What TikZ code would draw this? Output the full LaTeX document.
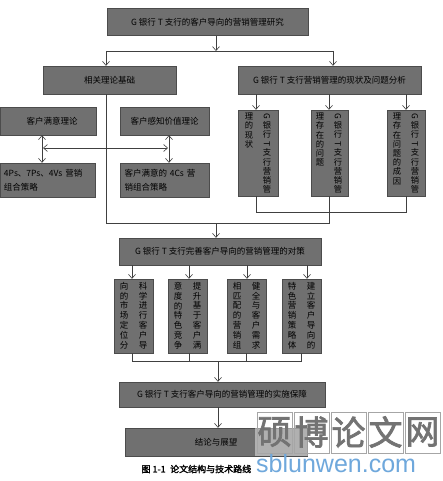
\documentclass[tikz,border=0pt]{standalone}
\usepackage{fontspec}
\usepackage{graphicx}
\newfontfamily\cjk{Noto Sans CJK SC}
\newfontfamily\cjkb[FakeBold=2]{Noto Sans CJK SC}
\newfontfamily\wmsans{Liberation Sans}
\usetikzlibrary{arrows.meta}
\definecolor{boxgray}{HTML}{707070}
\definecolor{wmblue}{HTML}{6FA8DC}
\tikzset{
 box/.style={draw=black!70, fill=boxgray, inner sep=0pt, font=\cjk\fontsize{8.5}{14}\selectfont, text=black},
 arr/.style={draw=black!75, line width=0.6pt, -{Straight Barb[length=4pt,width=7pt]}},
 dbl/.style={draw=black!75, line width=0.6pt, {Straight Barb[length=4pt,width=7pt]}-{Straight Barb[length=4pt,width=7pt]}},
 ln/.style={draw=black!75, line width=0.6pt},
 vcol/.style={inner sep=0pt, anchor=north, align=center, font=\cjk\fontsize{8.3}{9.2}\selectfont, text=black},
 vcolb/.style={vcol, font=\cjk\fontsize{8.5}{9.8}\selectfont},
}
\newcommand\rG{\rotatebox[origin=c]{-90}{G}}
\newcommand\rT{\rotatebox[origin=c]{-90}{T}}
\begin{document}
\begin{tikzpicture}[x=1pt,y=-1pt]
\useasboundingbox (0,0) rectangle (443,481);
\fill[white] (0,0) rectangle (443,481);

% top
\node[box, minimum width=201pt, minimum height=27pt] (top) at (207.5,22) {G 银行 T 支行的客户导向的营销管理研究};
\coordinate (j1) at (216,51);
\coordinate (jl) at (106,51);
\coordinate (jr) at (333,51);
\draw[arr] (top.south -| j1) -- (j1);
\draw[ln] (jl) -- (jr);

\node[box, minimum width=133pt, minimum height=28pt] (theory) at (109.5,80) {相关理论基础};
\node[box, minimum width=183pt, minimum height=28pt] (status) at (329.5,80) {G 银行 T 支行营销管理的现状及问题分析};
\draw[arr] (jl) -- (theory.north -| jl);
\draw[arr] (jr) -- (status.north -| jr);

% left theory boxes
\node[box, minimum width=96pt, minimum height=28pt] (s1) at (48,121) {\hspace*{8pt}客户满意理论};
\node[box, minimum width=89pt, minimum height=28pt] (s2) at (164.5,121) {客户感知价值理论};
\node[box, minimum width=95pt, minimum height=34pt, align=left, text width=87pt] (s3) at (47.5,180) {4Ps、7Ps、4Vs 营销\\组合策略};
\node[box, minimum width=89pt, minimum height=34pt, align=left, text width=80pt] (s4) at (164.5,180) {客户满意的 4Cs 营\\销组合策略};
\coordinate (dl) at (42,0);
\coordinate (dr) at (169,0);
\draw[dbl] (s1.south -| dl) -- (s3.north -| dl);
\draw[dbl] (s2.south -| dr) -- (s4.north -| dr);
\coordinate (h1) at (43,148);
\coordinate (h2) at (168,148);
\draw[dbl] (h1) -- (h2);

% status sub boxes
\node[box, minimum width=40pt, minimum height=86pt] (b1) at (258,153) {};
\node[box, minimum width=37pt, minimum height=86pt] (b2) at (329.5,153) {};
\node[box, minimum width=38pt, minimum height=86pt] (b3) at (406,153) {};
\node[vcol] (b1r) at (267,113) {\rG\\银\\行\\\rT\\支\\行\\营\\销\\管};
\node[vcol] (b1l) at (249,113) {理\\的\\现\\状};
\node[vcol] (b2r) at (338,113) {\rG\\银\\行\\\rT\\支\\行\\营\\销\\管};
\node[vcol] (b2l) at (320,113) {理\\存\\在\\的\\问\\题};
\node[vcol] (b3r) at (415,113) {\rG\\银\\行\\\rT\\支\\行\\营\\销\\管};
\node[vcol] (b3l) at (397,113) {理\\存\\在\\问\\题\\的\\成\\因};
\coordinate (k1) at (256,0);
\coordinate (k2) at (329,0);
\coordinate (k3) at (406,0);
\draw[arr] (status.south -| k1) -- (b1.north -| k1);
\draw[arr] (status.south -| k2) -- (b2.north -| k2);
\draw[arr] (status.south -| k3) -- (b3.north -| k3);
\coordinate (u1) at (256,212);
\coordinate (u3) at (406,212);
\draw[ln] (b1.south -| u1) -- (u1) -- (u3) -- (b3.south -| u3);
\coordinate (w1) at (106,223);
\coordinate (w2) at (329,223);
\coordinate (wm) at (216,223);
\draw[ln] (theory.south -| w1) -- (w1) -- (w2) -- (b2.south -| w2);

% countermeasures
\node[box, minimum width=202pt, minimum height=27pt] (m) at (220,251.5) {G 银行 T 支行完善客户导向的营销管理的对策};
\draw[arr] (wm) -- (m.north -| wm);
\node[box, minimum width=39pt, minimum height=74pt] (c1) at (133.5,316) {};
\node[box, minimum width=39pt, minimum height=74pt] (c2) at (187.5,316) {};
\node[box, minimum width=39pt, minimum height=74pt] (c3) at (246.5,316) {};
\node[box, minimum width=39pt, minimum height=74pt] (c4) at (301.5,316) {};
\node[vcolb] (c1r) at (143,282) {科\\学\\进\\行\\客\\户\\导};
\node[vcolb] (c1l) at (124,282) {向\\的\\市\\场\\定\\位\\分};
\node[vcolb] (c2r) at (197,282) {提\\升\\基\\于\\客\\户\\满};
\node[vcolb] (c2l) at (178,282) {意\\度\\的\\特\\色\\竞\\争};
\node[vcolb] (c3r) at (256,282) {健\\全\\与\\客\\户\\需\\求};
\node[vcolb] (c3l) at (237,282) {相\\匹\\配\\的\\营\\销\\组};
\node[vcolb] (c4r) at (311,282) {建\\立\\客\\户\\导\\向\\的};
\node[vcolb] (c4l) at (292,282) {特\\色\\营\\销\\策\\略\\体};
\coordinate (p1) at (132,0);
\coordinate (p2) at (189,0);
\coordinate (p3) at (247,0);
\coordinate (p4) at (307,0);
\draw[arr] (m.south -| p1) -- (c1.north -| p1);
\draw[arr] (m.south -| p2) -- (c2.north -| p2);
\draw[arr] (m.south -| p3) -- (c3.north -| p3);
\draw[arr] (m.south -| p4) -- (c4.north -| p4);
\coordinate (q1) at (132,361);
\coordinate (q2) at (189,361);
\coordinate (q3) at (246,361);
\coordinate (q4) at (301,361);
\coordinate (qm) at (218,361);
\draw[ln] (c1.south -| q1) -- (q1) -- (q4) -- (c4.south -| q4);
\draw[ln] (c2.south -| q2) -- (q2);
\draw[ln] (c3.south -| q3) -- (q3);

\node[box, minimum width=206pt, minimum height=25pt] (impl) at (222,394.5) {G 银行 T 支行客户导向的营销管理的实施保障};
\draw[arr] (qm) -- (impl.north -| qm);
\node[box, minimum width=182pt, minimum height=28pt] (concl) at (216,442) {结论与展望};
\coordinate (r1) at (218,0);
\draw[arr] (impl.south -| r1) -- (concl.north -| r1);

\node[font=\cjkb\fontsize{9}{10}\selectfont, anchor=west] (cap) at (138,469) {图 1-1\enspace 论文结构与技术路线};

% watermark
\fill[white, opacity=0.45] (255,410) rectangle (443,456);
\foreach \i/\ch in {0/硕,1/博,2/论,3/文,4/网}{
  \draw[black!35, line width=0.5pt] (257+\i*37,412) rectangle (292+\i*37,453);
  \node[font=\cjkb\fontsize{34}{34}\selectfont, text=black!55, inner sep=0pt] (wm\i) at (274.5+\i*37,432) {\ch};
}
\node[font=\wmsans\fontsize{25}{25}\selectfont, text=wmblue, anchor=west, inner sep=0pt] (wmurl) at (256,464) {sblunwen.com};
\end{tikzpicture}
\end{document}
